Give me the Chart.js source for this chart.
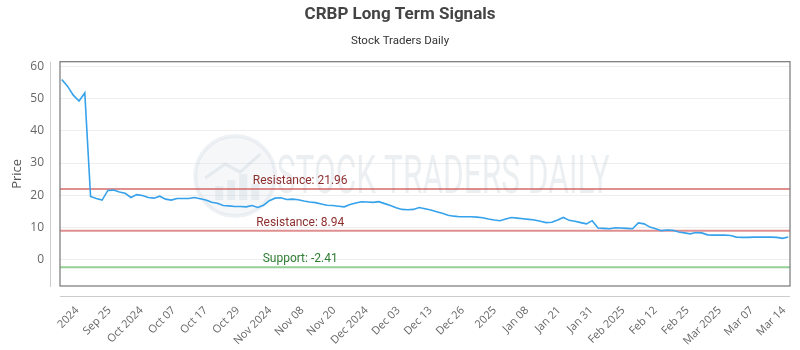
<!DOCTYPE html>
<html><head><meta charset="utf-8">
<script src="https://cdn.jsdelivr.net/npm/chart.js@4.4.0/dist/chart.umd.min.js"></script>
<style>html,body{margin:0;padding:0;background:#fff}#wrap{width:800px;height:350px}</style>
</head><body><div id="wrap"><canvas id="c" width="800" height="350"></canvas></div>
<script>
// ---- data ----
const prices = [
  56.0, 53.9, 51.1, 49.3, 51.8, 19.6, 19.0, 18.5, 21.5, 21.6,
  21.0, 20.6, 19.3, 20.2, 19.9, 19.3, 19.1, 19.7, 18.8, 18.5,
  19.0, 19.0, 19.0, 19.3, 18.9, 18.5, 17.8, 17.5, 16.8, 16.7,
  16.5, 16.5, 16.4, 16.8, 16.2, 16.9, 18.3, 19.1, 19.2, 18.7,
  18.8, 18.6, 18.2, 17.9, 17.7, 17.3, 16.9, 16.8, 16.6, 16.4,
  17.1, 17.6, 18.0, 17.9, 17.8, 18.0, 17.4, 16.8, 16.1, 15.6,
  15.5, 15.6, 16.2, 15.8, 15.4, 14.9, 14.4, 13.8, 13.5, 13.3,
  13.3, 13.3, 13.2, 13.0, 12.6, 12.3, 12.1, 12.6, 13.1, 12.9,
  12.7, 12.5, 12.3, 11.9, 11.5, 11.6, 12.3, 13.1, 12.2, 11.9,
  11.5, 11.1, 12.1, 9.8, 9.7, 9.6, 9.9, 9.8, 9.7, 9.6,
  11.4, 11.1, 10.1, 9.6, 9.0, 9.2, 9.1, 8.6, 8.3, 8.0,
  8.4, 8.3, 7.7, 7.6, 7.6, 7.6, 7.5, 7.0, 6.9, 6.9,
  7.0, 7.0, 7.0, 7.0, 6.9, 6.6, 7.0
];
const tickLabels = ['2024','Sep 25','Oct 2024','Oct 07','Oct 17','Oct 29','Nov 2024','Nov 08','Nov 20',
  'Dec 2024','Dec 03','Dec 13','Dec 26','2025','Jan 08','Jan 21','Jan 31','Feb 2025','Feb 12','Feb 25',
  'Mar 2025','Mar 07','Mar 14'];
const levelValues = [21.96, 8.94, -2.41];
const levelKinds = ['Resistance', 'Resistance', 'Support'];
const yTickValues = [0, 10, 20, 30, 40, 50, 60];
const yMin = -8.2, yMax = 61.5;
const tickStart = 2.7, tickStep = 5.57;

// ---- styles ----
const lineColor = 'rgb(54,162,235)';
const levelStyle = {
  Resistance: { line: 'rgba(204,68,68,0.6)', text: '#8e2f2f' },
  Support: { line: 'rgba(76,175,80,0.6)', text: '#2e7d32' }
};

const points = prices.map((v, i) => ({ x: i, y: v }));

const decor = {
  id: 'decor',
  beforeDatasetsDraw(chart) {
    const { ctx, chartArea: a, scales } = chart;
    const w = a.right - a.left, h = a.bottom - a.top;
    ctx.save();
    // watermark
    const cx = a.left + w * 0.24, cy = a.top + h * 0.51, r = 40;
    ctx.beginPath(); ctx.arc(cx, cy, r, 0, Math.PI * 2);
    ctx.fillStyle = 'rgba(215,224,232,0.26)'; ctx.fill();
    ctx.lineWidth = 4; ctx.strokeStyle = 'rgba(205,215,225,0.32)'; ctx.stroke();
    ctx.fillStyle = 'rgba(200,210,220,0.32)';
    [[-20, 10, 8, 14], [-8, 4, 8, 20], [4, -2, 8, 26], [16, 8, 8, 16]].forEach(b => ctx.fillRect(cx + b[0], cy + b[1], b[2], b[3]));
    ctx.beginPath(); ctx.moveTo(cx - 30, cy + 2); ctx.lineTo(cx - 10, cy - 12); ctx.lineTo(cx + 5, cy - 4); ctx.lineTo(cx + 25, cy - 22);
    ctx.lineWidth = 3; ctx.strokeStyle = 'rgba(200,210,220,0.36)'; ctx.stroke();
    const txt = 'STOCK TRADERS DAILY';
    ctx.font = '400 53px Roboto';
    const mw = ctx.measureText(txt).width;
    const tw = 333;
    ctx.translate(a.left + w * 0.297, cy + 17);
    ctx.scale(tw / mw, 1);
    ctx.fillStyle = 'rgba(200,208,215,0.34)';
    ctx.textBaseline = 'alphabetic'; ctx.textAlign = 'left';
    ctx.fillText(txt, 0, 0);
    ctx.restore();

    // level lines
    ctx.save();
    const y = scales.y;
    levelValues.forEach((v, i) => {
      const st = levelStyle[levelKinds[i]];
      const py = y.getPixelForValue(v);
      ctx.beginPath(); ctx.moveTo(a.left, py); ctx.lineTo(a.right, py);
      ctx.lineWidth = 2; ctx.strokeStyle = st.line; ctx.stroke();
      ctx.font = '12px Roboto'; ctx.fillStyle = st.text;
      ctx.textAlign = 'center'; ctx.textBaseline = 'middle';
      ctx.fillText(levelKinds[i] + ': ' + v.toFixed(2), a.left + w * 0.329, py - 8);
    });
    ctx.restore();
  },
  afterDraw(chart) {
    const { ctx, chartArea: a } = chart;
    ctx.save();
    ctx.lineWidth = 1.2; ctx.strokeStyle = '#777';
    ctx.strokeRect(a.left, a.top, a.right - a.left, a.bottom - a.top);
    ctx.lineWidth = 1; ctx.strokeStyle = '#ccc';
    ctx.beginPath(); ctx.moveTo(a.left - 9.5, a.top); ctx.lineTo(a.left - 9.5, a.bottom + 1); ctx.stroke();
    ctx.beginPath(); ctx.moveTo(a.left, a.bottom + 10.5); ctx.lineTo(a.right, a.bottom + 10.5); ctx.stroke();
    ctx.restore();
  }
};

new Chart(document.getElementById('c'), {
  type: 'line',
  data: { datasets: [{ data: points, borderColor: lineColor, borderWidth: 1.6, pointRadius: 0, tension: 0, fill: false }] },
  options: {
    responsive: false, animation: false, devicePixelRatio: 1,
    layout: { padding: 0 },
    plugins: {
      legend: { display: false }, tooltip: { enabled: false },
      title: { display: true, text: 'CRBP Long Term Signals', color: '#444', font: { family: 'Roboto', size: 17, weight: 'bold' }, padding: { top: 5, bottom: 4 } },
      subtitle: { display: true, text: 'Stock Traders Daily', color: '#333', font: { family: 'Roboto', size: 11.5 }, padding: { top: 4.5, bottom: 14 } }
    },
    scales: {
      x: {
        type: 'linear', min: -0.3, max: prices.length - 0.7,
        grid: { display: false }, border: { display: false },
        afterBuildTicks: s => { s.ticks = tickLabels.map((_, i) => ({ value: tickStart + i * tickStep })); },
        afterFit: s => { s.height = 64; s.paddingLeft = 0; s.paddingRight = 0; },
        ticks: { autoSkip: false, minRotation: 45, maxRotation: 45, padding: 10, color: '#666', font: { family: 'Open Sans', size: 11 },
          callback: (v, i) => tickLabels[i] }
      },
      y: {
        min: yMin, max: yMax,
        grid: { color: '#eee', drawTicks: false }, border: { display: false },
        afterBuildTicks: s => { s.ticks = yTickValues.map(v => ({ value: v })); },
        afterFit: s => { s.width = 60; s.paddingTop = 0; s.paddingBottom = 0; },
        title: { display: true, text: 'Price', color: '#555', font: { family: 'Open Sans', size: 13 }, padding: { top: 9, bottom: 0 } },
        ticks: { padding: 16, color: '#666', font: { family: 'Open Sans', size: 12 } }
      },
      yr: {
        position: 'right', display: true,
        grid: { display: false }, border: { display: false },
        ticks: { display: false },
        afterFit: s => { s.width = 10; s.paddingTop = 0; s.paddingBottom = 0; }
      }
    }
  },
  plugins: [decor]
});
</script>
</body></html>
